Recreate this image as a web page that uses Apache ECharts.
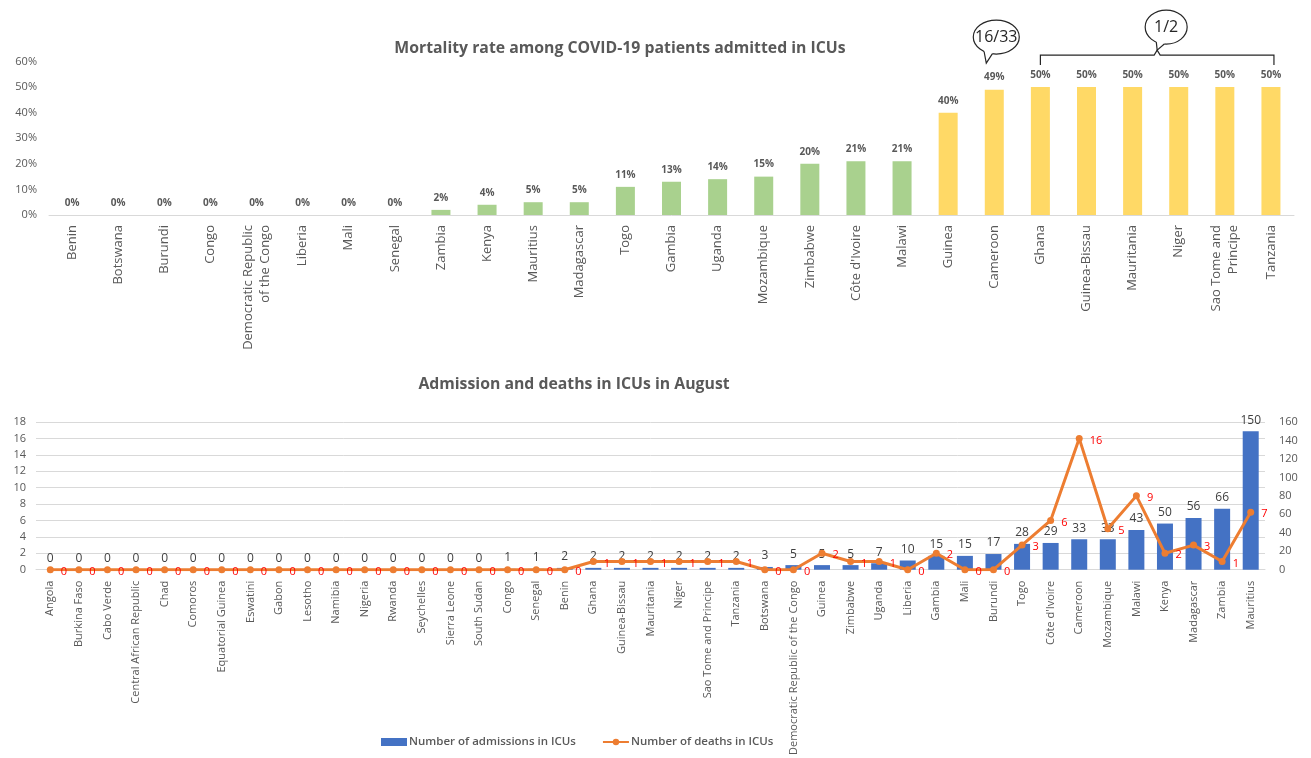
<!DOCTYPE html>
<html>
<head>
<meta charset="utf-8">
<script src="https://cdn.jsdelivr.net/npm/echarts@6/dist/echarts.min.js"></script>
<style>
  html, body { margin: 0; padding: 0; background: #ffffff; }
  #chart { width: 1311px; height: 758px; }
</style>
</head>
<body>
<div id="chart"></div>
<script>
// Mortality rate (%) among ICU patients, by country
const rateCountries = [
  'Benin', 'Botswana', 'Burundi', 'Congo', 'Democratic Republic\nof the Congo',
  'Liberia', 'Mali', 'Senegal', 'Zambia', 'Kenya', 'Mauritius', 'Madagascar',
  'Togo', 'Gambia', 'Uganda', 'Mozambique', 'Zimbabwe', "Côte d'Ivoire", 'Malawi',
  'Guinea', 'Cameroon', 'Ghana', 'Guinea-Bissau', 'Mauritania', 'Niger',
  'Sao Tome and\nPrincipe', 'Tanzania'
];
const mortalityRate = [0, 0, 0, 0, 0, 0, 0, 0, 2, 4, 5, 5, 11, 13, 14, 15, 20, 21, 21, 40, 49, 50, 50, 50, 50, 50, 50];
const rateTicks = [0, 10, 20, 30, 40, 50, 60];

// ICU admissions and deaths in August
const icuCountries = [
  'Angola', 'Burkina Faso', 'Cabo Verde', 'Central African Republic', 'Chad', 'Comoros',
  'Equatorial Guinea', 'Eswatini', 'Gabon', 'Lesotho', 'Namibia', 'Nigeria', 'Rwanda',
  'Seychelles', 'Sierra Leone', 'South Sudan', 'Congo', 'Senegal', 'Benin', 'Ghana',
  'Guinea-Bissau', 'Mauritania', 'Niger', 'Sao Tome and Principe', 'Tanzania', 'Botswana',
  'Democratic Republic of the Congo', 'Guinea', 'Zimbabwe', 'Uganda', 'Liberia', 'Gambia',
  'Mali', 'Burundi', 'Togo', "Côte d'Ivoire", 'Cameroon', 'Mozambique', 'Malawi', 'Kenya',
  'Madagascar', 'Zambia', 'Mauritius'
];
const icuAdmissions = [0, 0, 0, 0, 0, 0, 0, 0, 0, 0, 0, 0, 0, 0, 0, 0, 1, 1, 2, 2, 2, 2, 2, 2, 2, 3, 5, 5, 5, 7, 10, 15, 15, 17, 28, 29, 33, 33, 43, 50, 56, 66, 150];
const icuDeaths = [0, 0, 0, 0, 0, 0, 0, 0, 0, 0, 0, 0, 0, 0, 0, 0, 0, 0, 0, 1, 1, 1, 1, 1, 1, 0, 0, 2, 1, 1, 0, 2, 0, 0, 3, 6, 16, 5, 9, 2, 3, 1, 7];
const deathTicks = [0, 2, 4, 6, 8, 10, 12, 14, 16, 18];
const admissionTicks = [0, 20, 40, 60, 80, 100, 120, 140, 160];

const FONT = 'Open Sans';
const GREY = '#595959';
const LOW_RATE = '#A9D18E';
const HIGH_RATE = '#FFD966';

const chart = echarts.init(document.getElementById('chart'), null, { renderer: 'canvas' });

const option = {
  backgroundColor: '#ffffff',
  animation: false,
  textStyle: { fontFamily: FONT },
  title: [
    {
      text: 'Mortality rate among COVID-19 patients admitted in ICUs',
      left: 615, top: 35, textAlign: 'center',
      textStyle: { fontFamily: FONT, fontSize: 15.8, fontWeight: 'bold', color: GREY }
    },
    {
      text: 'Admission and deaths in ICUs in August',
      left: 569, top: 371, textAlign: 'center',
      textStyle: { fontFamily: FONT, fontSize: 15.8, fontWeight: 'bold', color: GREY }
    }
  ],
  legend: {
    left: 376, top: 731,
    itemGap: 26,
    data: [
      { name: 'Number of admissions in ICUs', icon: 'rect', itemStyle: { color: '#4472C4' } },
      { name: 'Number of deaths in ICUs' }
    ],
    itemWidth: 26, itemHeight: 8,
    textStyle: { fontFamily: FONT, fontSize: 11.5, fontWeight: 600, color: GREY, padding: [0, 0, 0, -3] }
  },
  grid: [
    { left: 49, width: 1245, top: 61.5, height: 153.5 },
    { left: 36, width: 1229, top: 422, height: 149 }
  ],
  xAxis: [
    {
      type: 'category', gridIndex: 0, data: rateCountries,
      axisLine: { lineStyle: { color: '#D9D9D9', width: 1 } },
      axisTick: { show: false },
      axisLabel: { rotate: 90, interval: 0, margin: 10, fontFamily: FONT, fontSize: 13, color: GREY, lineHeight: 17 }
    },
    {
      type: 'category', gridIndex: 1, data: icuCountries,
      axisLine: { lineStyle: { color: '#D9D9D9', width: 1 } },
      axisTick: { show: false },
      axisLabel: { rotate: 90, interval: 0, margin: 11, fontFamily: FONT, fontSize: 11, color: GREY }
    }
  ],
  yAxis: [
    {
      type: 'value', gridIndex: 0,
      min: rateTicks[0], max: rateTicks[rateTicks.length - 1], interval: rateTicks[1] - rateTicks[0],
      splitLine: { show: false },
      axisLine: { show: false }, axisTick: { show: false },
      axisLabel: { formatter: '{value}%', margin: 12, fontFamily: FONT, fontSize: 11, color: GREY }
    },
    {
      type: 'value', gridIndex: 1, position: 'left',
      min: deathTicks[0], max: deathTicks[deathTicks.length - 1], interval: deathTicks[1] - deathTicks[0],
      splitLine: { lineStyle: { color: '#D9D9D9', width: 1 } },
      axisLine: { show: false }, axisTick: { show: false },
      axisLabel: { margin: 10, fontFamily: FONT, fontSize: 11, color: GREY }
    },
    {
      type: 'value', gridIndex: 1, position: 'right',
      min: admissionTicks[0], max: admissionTicks[admissionTicks.length - 1], interval: admissionTicks[1] - admissionTicks[0],
      splitLine: { show: false },
      axisLine: { show: false }, axisTick: { show: false },
      axisLabel: { margin: 14, fontFamily: FONT, fontSize: 11, color: GREY }
    }
  ],
  series: [
    {
      name: 'Mortality rate',
      type: 'bar', xAxisIndex: 0, yAxisIndex: 0,
      data: mortalityRate,
      barWidth: 19,
      itemStyle: { color: (p) => (p.value >= 40 ? HIGH_RATE : LOW_RATE) },
      label: {
        show: true, position: 'top', distance: 7,
        formatter: '{c}%',
        fontFamily: FONT, fontSize: 10, fontWeight: 'bold', color: GREY
      }
    },
    {
      name: 'Number of admissions in ICUs',
      type: 'bar', xAxisIndex: 1, yAxisIndex: 2,
      data: icuAdmissions,
      barWidth: 16,
      itemStyle: { color: '#4472C4' },
      label: {
        show: true, position: 'top', distance: 5,
        fontFamily: FONT, fontSize: 12, color: '#404040'
      },
      z: 2
    },
    {
      name: 'Number of deaths in ICUs',
      type: 'line', xAxisIndex: 1, yAxisIndex: 1,
      data: icuDeaths,
      symbol: 'circle', symbolSize: 7,
      lineStyle: { color: '#ED7D31', width: 3 },
      itemStyle: { color: '#ED7D31' },
      label: {
        show: true, position: 'right', distance: 7, offset: [0, 2],
        fontFamily: FONT, fontSize: 11, color: '#FF0000'
      },
      z: 3
    }
  ]
};

chart.setOption(option);

// Call-out bubbles and the brace over the 50% group
function bubble(cx, cy, rx, ry, a1, a2, tip, text) {
  const deg = Math.PI / 180;
  const p1 = [cx + rx * Math.cos(a1 * deg), cy + ry * Math.sin(a1 * deg)];
  const p2 = [cx + rx * Math.cos(a2 * deg), cy + ry * Math.sin(a2 * deg)];
  const pIn1 = [cx + (rx - 2) * Math.cos(a1 * deg), cy + (ry - 2) * Math.sin(a1 * deg)];
  const pIn2 = [cx + (rx - 2) * Math.cos(a2 * deg), cy + (ry - 2) * Math.sin(a2 * deg)];
  return [
    { type: 'ellipse', shape: { cx: cx, cy: cy, rx: rx, ry: ry },
      style: { fill: '#ffffff', stroke: '#262626', lineWidth: 1.2 }, z: 100 },
    { type: 'polygon', shape: { points: [pIn1, p1, tip, p2, pIn2] },
      style: { fill: '#ffffff', stroke: null }, z: 101 },
    { type: 'polyline', shape: { points: [p1, tip, p2] },
      style: { fill: null, stroke: '#262626', lineWidth: 1.2 }, z: 102 },
    { type: 'text', x: cx, y: cy, z: 103,
      style: { text: text, fill: '#262626', font: '16px "Open Sans"', align: 'center', verticalAlign: 'middle' } }
  ];
}

const y50 = chart.convertToPixel({ yAxisIndex: 0 }, 50);
const xCam = chart.convertToPixel({ xAxisIndex: 0 }, 'Cameroon');
const xGhana = chart.convertToPixel({ xAxisIndex: 0 }, 'Ghana');
const xTanz = chart.convertToPixel({ xAxisIndex: 0 }, 'Tanzania') + 3;
const braceY = y50 - 32;
const xMid = (xGhana + xTanz) / 2;

const elements = []
  .concat(bubble(xCam + 2, y50 - 50, 23, 17, 100, 122, [xCam - 8, y50 - 24], '16/33'))
  .concat(bubble(xMid + 9, y50 - 60, 21, 17, 95, 118, [xMid, braceY - 5], '1/2'))
  .concat([
    { type: 'polyline', z: 99,
      shape: { points: [
        [xGhana, braceY + 10], [xGhana, braceY], [xMid - 3, braceY], [xMid, braceY - 5],
        [xMid + 3, braceY], [xTanz, braceY], [xTanz, braceY + 10]
      ] },
      style: { fill: null, stroke: '#262626', lineWidth: 1.2 } }
  ]);

chart.setOption({ graphic: elements });
</script>
</body>
</html>
